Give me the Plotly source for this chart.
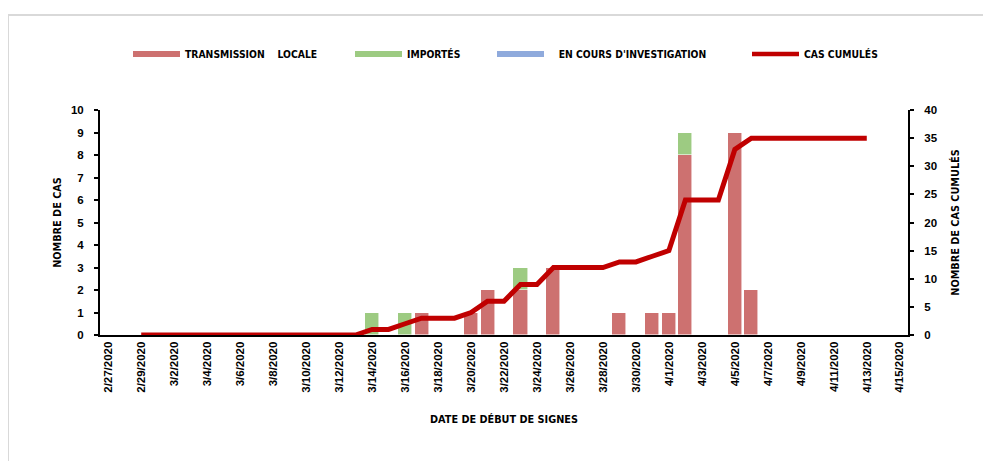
import pandas as pd
import plotly.graph_objects as go

# ---- data ----
local_dates = ["2020-03-17", "2020-03-20", "2020-03-21", "2020-03-23", "2020-03-25",
               "2020-03-29", "2020-03-31", "2020-04-01", "2020-04-02", "2020-04-05", "2020-04-06"]
local_vals = [1, 1, 2, 2, 3, 1, 1, 1, 8, 9, 2]

import_dates = ["2020-03-14", "2020-03-16", "2020-03-23", "2020-04-02"]
import_vals = [1, 1, 1, 1]

invest_dates = []
invest_vals = []

cum_dates = [d.strftime("%Y-%m-%d") for d in pd.date_range("2020-02-29", "2020-04-13")]
cum_vals = [0, 0, 0, 0, 0, 0, 0, 0, 0, 0, 0, 0, 0, 0,      # 2/29 - 3/13
            1, 1, 2, 3, 3, 3, 4, 6, 6, 9, 9, 12,           # 3/14 - 3/25
            12, 12, 12, 13, 13, 14, 15, 24, 24, 24, 33, 35,  # 3/26 - 4/6
            35, 35, 35, 35, 35, 35, 35]                     # 4/7 - 4/13

tick_dates = [d.strftime("%Y-%m-%d") for d in pd.date_range("2020-02-27", "2020-04-15", freq="2D")]
tick_text = ["2/27/2020", "2/29/2020", "3/2/2020", "3/4/2020", "3/6/2020", "3/8/2020",
             "3/10/2020", "3/12/2020", "3/14/2020", "3/16/2020", "3/18/2020", "3/20/2020",
             "3/22/2020", "3/24/2020", "3/26/2020", "3/28/2020", "3/30/2020", "4/1/2020",
             "4/3/2020", "4/5/2020", "4/7/2020", "4/9/2020", "4/11/2020", "4/13/2020", "4/15/2020"]

series_names = ["TRANSMISSION\u00a0\u00a0\u00a0 LOCALE", "IMPORTÉS", "\u00a0\u00a0\u00a0EN COURS D'INVESTIGATION", "CAS CUMULÉS"]
series_colors = ["#CD7170", "#9DCB82", "#8FAADC", "#C00000"]

# ---- figure (page body adds an 8px offset, so the figure is 8px smaller) ----
W, H = 983, 453
ML, MR, MT, MB = 92, 83, 102, 126
DAY = 86400000
NARROW = "Liberation Sans Narrow, DejaVu Sans Condensed, Arial Narrow, sans-serif"
ARIAL = "Liberation Sans, Arial, sans-serif"

fig = go.Figure()
bar_line = dict(color="rgba(255,255,255,0.7)", width=0.8)
fig.add_trace(go.Bar(x=local_dates, y=local_vals, width=0.85 * DAY, marker=dict(color=series_colors[0], line=bar_line),
                     name=series_names[0], showlegend=False))
fig.add_trace(go.Bar(x=import_dates, y=import_vals, width=0.85 * DAY, marker=dict(color=series_colors[1], line=bar_line),
                     name=series_names[1], showlegend=False))
fig.add_trace(go.Bar(x=invest_dates, y=invest_vals, width=0.85 * DAY, marker=dict(color=series_colors[2], line=bar_line),
                     name=series_names[2], showlegend=False))
fig.add_trace(go.Scatter(x=cum_dates, y=cum_vals, yaxis="y2", mode="lines",
                         line=dict(color=series_colors[3], width=5), name=series_names[3], showlegend=False))

# legend entries (line-style swatches like the original)
legend_ids = ["legend", "legend2", "legend3", "legend4"]
legend_px = [120, 342, 484, 739]
for name, col, lid in zip(series_names, series_colors, legend_ids):
    fig.add_trace(go.Scatter(x=[None], y=[None], mode="lines", line=dict(color=col, width=6 if lid != "legend4" else 4.5),
                             name=name, legend=lid, showlegend=True))

legend_common = dict(orientation="h", xref="container", yref="container", xanchor="left", yanchor="middle",
                     y=1 - 46 / H, bgcolor="rgba(0,0,0,0)", borderwidth=0, itemwidth=47,
                     font=dict(family=NARROW, size=10.3, color="black", weight="bold"))
legends = {}
for lid, px in zip(legend_ids, legend_px):
    legends[lid] = dict(legend_common, x=px / W)

axis_title_font = dict(family=NARROW, size=10.8, color="black", weight="bold")
fig.update_layout(
    width=W, height=H,
    margin=dict(l=ML, r=MR, t=MT, b=MB, pad=0),
    paper_bgcolor="white", plot_bgcolor="white",
    barmode="stack", bargap=0,
    **legends,
    xaxis=dict(type="date", range=["2020-02-26 12:00", "2020-04-15 12:00"],
               tickvals=tick_dates, ticktext=tick_text, tickangle=-90, ticks="",
               tickfont=dict(family=ARIAL, size=11.5, color="black", weight="bold"),
               showline=True, linecolor="black", linewidth=2, showgrid=False, zeroline=False,
               title=dict(text="DATE DE DÉBUT DE SIGNES", font=axis_title_font, standoff=24)),
    yaxis=dict(range=[0, 10], dtick=1, showgrid=False, zeroline=False,
               showline=True, linecolor="black", linewidth=2,
               ticks="outside", ticklen=4, tickwidth=1.5, tickcolor="black", ticklabelstandoff=8,
               tickfont=dict(family=ARIAL, size=11.5, color="black", weight="bold"),
               title=dict(text="NOMBRE DE CAS", font=axis_title_font, standoff=7)),
    yaxis2=dict(range=[0, 40], dtick=5, overlaying="y", side="right", showgrid=False, zeroline=False,
                showline=True, linecolor="black", linewidth=2,
                ticks="outside", ticklen=4, tickwidth=1.5, tickcolor="black", ticklabelstandoff=8,
                tickfont=dict(family=ARIAL, size=11.5, color="black", weight="bold"),
                title=dict(text="NOMBRE DE CAS CUMULÉS", font=axis_title_font, standoff=15)),
    shapes=[dict(type="rect", xref="paper", yref="paper",
                 x0=(0 - ML) / (W - ML - MR), x1=1.2,
                 y0=-1.0, y1=(H - MB - 7) / (H - MT - MB),
                 line=dict(color="#D9D9D9", width=2), fillcolor="rgba(0,0,0,0)", layer="below")],
)

fig.write_html("out.html")
